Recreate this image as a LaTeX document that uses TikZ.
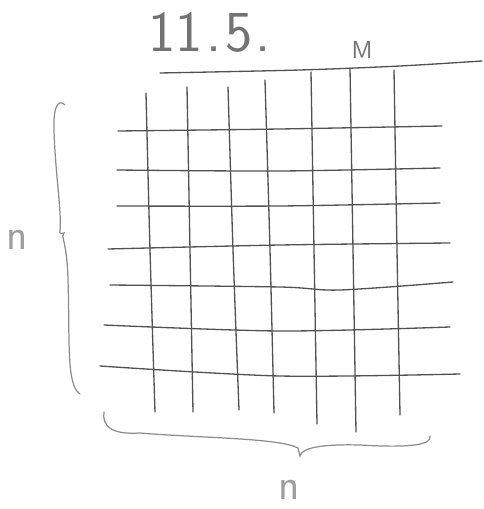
\documentclass[tikz,border=0pt]{standalone}
\begin{document}
\begin{tikzpicture}[x=0.02cm,y=-0.02cm,
  pen/.style={draw=black!68, line width=0.75pt, line cap=round, line join=round},
  brace/.style={draw=black!45, line width=0.7pt, line cap=round},
  hand/.style={text=black!55, font=\sffamily, inner sep=0pt}]
\useasboundingbox (0,0) rectangle (483,509);
% top line
\draw[pen] plot[smooth] coordinates {(160,73) (300,70) (400,66) (482,61)};
% vertical lines
\draw[pen] plot[smooth] coordinates {(146,93) (150,250) (155,412)};
\draw[pen] plot[smooth] coordinates {(187,87) (190,250) (193,412)};
\draw[pen] plot[smooth] coordinates {(228,87) (233,250) (239,410)};
\draw[pen] plot[smooth] coordinates {(265,80) (270,250) (274,413)};
\draw[pen] plot[smooth] coordinates {(311,72) (314,250) (317,424)};
\draw[pen] plot[smooth] coordinates {(350,68) (353,250) (356,432)};
\draw[pen] plot[smooth] coordinates {(394,70) (397,250) (400,415)};
% horizontal lines
\draw[pen] plot[smooth] coordinates {(118,131) (280,129) (442,126)};
\draw[pen] plot[smooth] coordinates {(117,170) (280,171) (440,168)};
\draw[pen] plot[smooth] coordinates {(117,206) (280,206) (440,203)};
\draw[pen] plot[smooth] coordinates {(108,249) (280,245) (450,243)};
\draw[pen] plot[smooth] coordinates {(110,285) (280,287) (340,290) (453,282)};
\draw[pen] plot[smooth] coordinates {(104,325) (280,331) (450,327)};
\draw[pen] plot[smooth] coordinates {(100,366) (280,376) (460,374)};
% left brace
\draw[brace] (65,105) .. controls (58,98) and (53,108) .. (54,130)
  .. controls (55,170) and (62,215) .. (60,230) .. controls (59,234) and (61,234) .. (64,233)
  .. controls (60,236) and (67,240) .. (68,280)
  .. controls (70,340) and (66,385) .. (80,394);
% bottom brace
\draw[brace] (104,412) .. controls (102,425) and (110,435) .. (140,433)
  .. controls (200,438) and (280,438) .. (298,448) -- (300,456)
  .. controls (302,448) and (320,444) .. (360,445)
  .. controls (410,448) and (432,445) .. (430,436);
% labels
\node[hand, font=\sffamily\fontsize{33}{33}\selectfont, anchor=south west] (title) at (148,53) {11\kern2pt.\kern2pt5\kern2pt.};
\node[hand, font=\sffamily\fontsize{14}{14}\selectfont] (m) at (362,50) {M};
\node[hand, text=black!38, font=\sffamily\fontsize{25}{25}\selectfont] (nl) at (17,240) {n};
\node[hand, text=black!38, font=\sffamily\fontsize{25}{25}\selectfont] (nb) at (289,490) {n};
\end{tikzpicture}
\end{document}
